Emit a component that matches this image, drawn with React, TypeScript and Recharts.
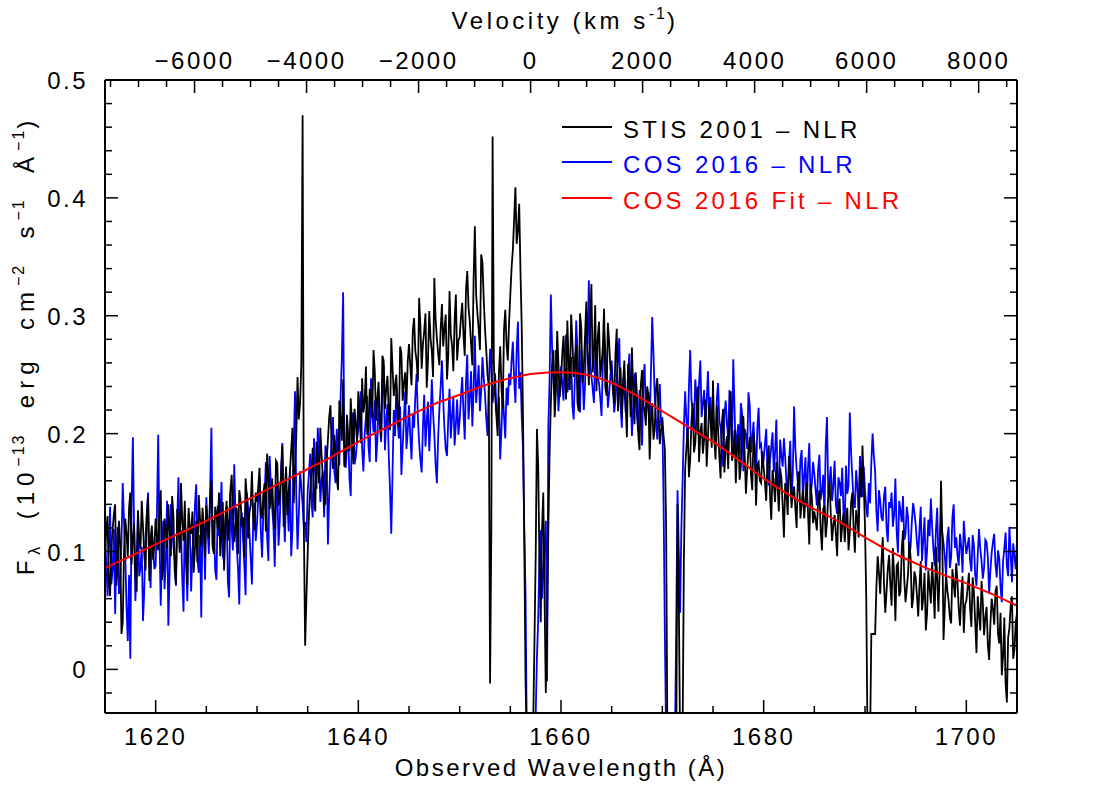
import React from "react";
import { LineChart, Line, XAxis, YAxis } from "recharts";

const FONT = "'Liberation Sans', Arial, sans-serif";

// spectra: values every 0.25 Å from 1615 Å plus the in-between samples (offset 0.125 Å),
// flux in units of 0.001 × 10^-13 erg cm^-2 s^-1 Å^-1
const WAVE_START = 1615;
const WAVE_STEP = 0.25;

const stis2001 = [
  95, 130, 62, 118, 140, 88, 105, 40, 128, 96, 150, 112, 78, 135, 102, 121, 84, 146, 110, 93,
  128, 101, 152, 87, 119, 140, 96, 131, 72, 124, 158, 109, 93, 137, 115, 82, 126, 148, 104, 121,
  139, 112, 160, 98, 131, 150, 117, 84, 143, 126, 165, 108, 137, 152, 121, 95, 146, 133, 168, 118,
  142, 171, 128, 158, 183, 136, 162, 119, 175, 148, 190, 154, 131, 168, 205, 172, 248, 226, 470, 20,
  98, 152, 188, 134, 176, 205, 162, 141, 195, 224, 170, 187, 152, 213, 246, 181, 199, 230, 174, 208,
  236, 192, 218, 257, 204, 229, 271, 211, 244, 196, 262, 238, 219, 281, 232, 250, 206, 268, 243, 225,
  276, 241, 298, 262, 315, 255, 287, 239, 304, 270, 332, 281, 258, 310, 289, 246, 321, 275, 296, 262,
  282, 311, 266, 338, 295, 258, 376, 302, 271, 345, 289, 250, -12, 452, 232, 198, 274, 221, 305, 262,
  318, 356, 409, 372, 338, 214, -10, -60, -60, -50, 95, 172, 40, 150, -20, 118, 226, 271, 236, 258,
  244, 283, 229, 262, 301, 248, 275, 219, 290, 256, 312, 241, 327, 268, 236, 295, 259, 306, 232, 278,
  251, 226, 289, 238, 214, 262, 197, 245, 273, 208, 231, 186, 254, 219, 240, 178, 226, 204, 247, 191,
  212, 186, -60, -60, -60, -60, 140, -60, -55, 170, 205, 178, 226, 192, 240, 201, 183, 229, 196, 214,
  245, 178, 203, 162, 221, 188, 170, 236, 184, 158, 199, 172, 214, 149, 186, 165, 201, 139, 176, 158,
  171, 143, 190, 127, 158, 176, 134, 162, 112, 149, 181, 137, 155, 120, 168, 141, 128, 159, 106, 146,
  134, 118, 152, 101, 139, 125, 160, 109, 131, 96, 145, 122, 108, 137, 116, 150, 99, 128, 171, 190,
  121, -60, -60, 30, 30, 96, 64, 112, 48, 85, 72, 103, 41, 90, 66, 118, 57, 81, 95, 60,
  78, 45, 92, 61, 33, 84, 56, 70, 104, 49, 160, 25, 81, 58, 39, 73, 90, 52, 64, 31,
  58, 82, 36, 65, 14, 47, 75, 29, 53, 8, 60, 38, 71, 22, -5, 44, -28, 35, 62, 17,
  48,
];

const stis2001Mid = [
  118, 76, 104, 132, 71, 126, 30, 99, 115, 137, 89, 124, 66, 110, 143, 97, 131, 75, 122, 106,
  112, 139, 76, 128, 103, 117, 147, 84, 136, 99, 125, 143, 71, 119, 134, 102, 91, 129, 137, 95,
  124, 147, 103, 138, 119, 96, 142, 128, 109, 152, 133, 121, 98, 144, 129, 162, 111, 139, 127, 150,
  155, 134, 149, 117, 164, 146, 128, 177, 139, 163, 121, 172, 150, 186, 141, 197, 212, 259, 120, 60,
  131, 168, 147, 193, 158, 181, 139, 177, 214, 186, 199, 162, 228, 194, 172, 216, 185, 207, 221, 193,
  214, 247, 226, 199, 238, 213, 252, 230, 207, 266, 221, 249, 203, 256, 241, 219, 274, 228, 252, 261,
  258, 287, 270, 244, 291, 276, 302, 263, 281, 248, 297, 268, 289, 274, 301, 266, 284, 253, 318, 279,
  298, 284, 322, 307, 276, 331, 318, 289, 352, 314, 271, 240, 120, 260, 215, 251, 239, 288, 276, 294,
  341, 382, 361, 395, 290, 110, -60, -60, -60, 20, 204, 90, 118, 62, 35, 183, 259, 214, 287, 231,
  268, 251, 296, 237, 279, 263, 226, 302, 243, 284, 267, 291, 252, 309, 281, 248, 273, 239, 294, 255,
  237, 268, 219, 256, 243, 228, 259, 214, 236, 252, 199, 241, 224, 207, 233, 212, 195, 238, 219, 203,
  198, 120, -60, -60, -60, -60, 60, -60, 90, 188, 163, 211, 184, 217, 176, 209, 195, 172, 226, 188,
  196, 224, 181, 209, 167, 198, 214, 177, 203, 189, 161, 215, 183, 170, 197, 152, 188, 174, 160, 185,
  159, 176, 148, 169, 142, 155, 171, 139, 158, 131, 166, 149, 137, 163, 128, 152, 145, 133, 157, 124,
  127, 143, 119, 136, 112, 148, 131, 123, 115, 139, 108, 133, 126, 101, 141, 121, 135, 112, 146, 158,
  60, -60, 30, 30, 70, 82, 91, 73, 66, 97, 54, 79, 88, 62, 101, 76, 69, 108, 52, 83,
  63, 71, 50, 82, 47, 69, 91, 43, 76, 88, 112, 52, 67, 44, 85, 61, 74, 37, 79, 55,
  69, 51, 78, 40, 62, 33, 57, 44, 21, 39, 52, 66, 30, 48, 11, -12, 27, 54, 9, 40,
];

const cos2016 = [
  110, 62, 138, 84, 47, 121, 73, 158, 96, 24, 9, 197, 58, 130, 86, 41, 112, 150, 69, 101,
  88, 199, 54, 126, 92, 37, 140, 105, 71, 163, 118, 49, 95, 132, 66, 110, 157, 82, 44, 121,
  146, 98, 205, 127, 76, 113, 159, 92, 138, 61, 120, 174, 104, 55, 133, 88, 150, 117, 72, 141,
  124, 163, 95, 148, 112, 181, 137, 87, 159, 126, 192, 108, 144, 171, 119, 236, 102, 168, 140, 125,
  151, 183, 129, 170, 205, 142, 168, 190, 106, 175, 214, 158, 186, 232, 320, 171, 199, 147, 218, 180,
  205, 236, 168, 214, 189, 247, 201, 176, 229, 193, 258, 210, 182, 115, 220, 241, 196, 165, 213, 187,
  224, 178, 205, 251, 192, 167, 233, 210, 185, 246, 199, 158, 221, 262, 204, 181, 238, 215, 190, 229,
  212, 248, 195, 267, 230, 206, 283, 241, 219, 265, 234, 198, 272, 226, 251, 209, 178, 237, 196, 224,
  241, 278, 226, 295, 252, 187, 64, -60, -60, -60, -40, 42, 118, 83, 126, 205, 318, 246, 271, 219,
  257, 228, 284, 241, 265, 212, 296, 238, 271, 220, 302, 330, 249, 226, 279, 243, 215, 288, 256, 234,
  262, 218, 247, 281, 205, 239, 226, 268, 198, 251, 214, 237, 190, 259, 223, 208, 299, 231, 195, 242,
  214, 30, -60, -60, -60, -60, 152, 48, 160, 236, 192, 271, 218, 246, 199, 262, 225, 208, 253, 231,
  219, 187, 243, 205, 172, 228, 196, 214, 263, 181, 208, 226, 168, 199, 235, 184, 210, 163, 222, 191,
  178, 204, 156, 189, 167, 212, 148, 181, 196, 159, 175, 142, 223, 170, 151, 186, 164, 138, 192, 157,
  166, 139, 182, 151, 128, 214, 160, 143, 177, 132, 158, 171, 124, 149, 218, 163, 137, 155, 181, 146,
  152, 129, 141, 200, 168, 117, 143, 126, 155, 108, 137, 121, 162, 99, 134, 147, 115, 129, 104, 141,
  123, 96, 138, 110, 84, 127, 145, 102, 118, 91, 133, 107, 79, 121, 95, 140, 112, 88, 104, 126,
  98, 112, 83, 105, 71, 119, 92, 86, 108, 64, 99, 115, 78, 94, 57, 103, 88, 121, 74, 96,
  110,
];

const cos2016Mid = [
  91, 103, 72, 119, 98, 64, 108, 126, 52, 80, 140, 117, 93, 79, 104, 67, 131, 92, 118, 85,
  131, 112, 97, 68, 143, 81, 119, 94, 126, 102, 77, 134, 58, 117, 101, 139, 93, 114, 128, 76,
  118, 152, 106, 84, 139, 128, 96, 121, 74, 149, 101, 132, 86, 124, 111, 63, 137, 95, 126, 109,
  146, 118, 134, 176, 92, 154, 121, 140, 105, 171, 137, 152, 117, 96, 188, 148, 131, 155, 119, 108,
  166, 142, 196, 153, 178, 161, 129, 183, 147, 197, 169, 204, 173, 265, 175, 188, 162, 207, 174, 195,
  221, 187, 199, 232, 176, 218, 228, 194, 207, 241, 186, 225, 153, 167, 198, 211, 223, 189, 236, 202,
  198, 217, 232, 214, 178, 206, 189, 227, 209, 218, 174, 196, 240, 229, 187, 213, 196, 231, 208, 199,
  231, 219, 244, 212, 253, 237, 226, 258, 236, 247, 213, 241, 255, 238, 219, 231, 204, 215, 239, 251,
  262, 247, 271, 238, 214, 120, -60, -60, -60, -60, 10, 95, 60, 105, -10, 246, 271, 228, 252, 240,
  243, 269, 235, 257, 224, 249, 270, 218, 253, 241, 276, 260, 238, 263, 247, 230, 258, 271, 222, 249,
  241, 229, 263, 226, 247, 218, 252, 236, 224, 243, 202, 228, 246, 215, 235, 251, 268, 212, 226, 207,
  140, -60, -60, -60, -60, 40, 100, 118, 205, 212, 240, 229, 204, 231, 243, 214, 237, 226, 219, 208,
  203, 229, 211, 190, 216, 208, 237, 192, 221, 199, 183, 217, 204, 187, 224, 196, 178, 205, 189, 172,
  191, 168, 177, 201, 184, 163, 195, 172, 180, 150, 194, 166, 188, 159, 178, 145, 180, 171, 148, 176,
  152, 170, 144, 165, 191, 149, 172, 156, 139, 163, 147, 135, 173, 156, 184, 142, 169, 130, 159, 172,
  137, 158, 176, 181, 134, 152, 129, 147, 121, 142, 150, 131, 117, 143, 125, 110, 138, 95, 126, 133,
  108, 119, 92, 129, 101, 113, 121, 88, 137, 105, 116, 96, 112, 86, 129, 103, 97, 115, 82, 110,
  105, 92, 114, 80, 97, 103, 77, 110, 95, 84, 108, 89, 101, 70, 92, 116, 79, 99, 107, 85,
];

// fit, every 2.5 Å
const fitWave = [
  1615, 1617.5, 1620, 1622.5, 1625, 1627.5, 1630, 1632.5, 1635, 1637.5, 1640, 1642.5, 1645,
  1647.5, 1650, 1652.5, 1655, 1657.5, 1660, 1662.5, 1665, 1667.5, 1670, 1672.5, 1675, 1677.5,
  1680, 1682.5, 1685, 1687.5, 1690, 1692.5, 1695, 1697.5, 1700, 1702.5, 1705,
];
const fitFlux = [
  0.086, 0.096, 0.106, 0.116, 0.126, 0.137, 0.148, 0.159, 0.17, 0.181, 0.193, 0.204, 0.215,
  0.225, 0.233, 0.241, 0.247, 0.251, 0.252, 0.25, 0.243, 0.232, 0.219, 0.206, 0.193, 0.178,
  0.162, 0.148, 0.136, 0.125, 0.112, 0.1, 0.09, 0.081, 0.073, 0.064, 0.054,
];

const waveTicks = [1620, 1625, 1630, 1635, 1640, 1645, 1650, 1655, 1660, 1665, 1670, 1675, 1680, 1685, 1690, 1695, 1700];
const waveLabels = [1620, 1640, 1660, 1680, 1700];
const velTicks = [
  -7500, -7000, -6500, -6000, -5500, -5000, -4500, -4000, -3500, -3000, -2500, -2000, -1500,
  -1000, -500, 0, 500, 1000, 1500, 2000, 2500, 3000, 3500, 4000, 4500, 5000, 5500, 6000, 6500,
  7000, 7500, 8000, 8500,
];
const velLabels = [-6000, -4000, -2000, 0, 2000, 4000, 6000, 8000];
const fluxTicks = [
  -0.02, 0, 0.02, 0.04, 0.06, 0.08, 0.1, 0.12, 0.14, 0.16, 0.18, 0.2, 0.22, 0.24, 0.26, 0.28,
  0.3, 0.32, 0.34, 0.36, 0.38, 0.4, 0.42, 0.44, 0.46, 0.48, 0.5,
];
const fluxLabels = [0, 0.1, 0.2, 0.3, 0.4, 0.5];

const WAVE_MIN = 1615;
const WAVE_MAX = 1705;
const REST = 1657.0;
const C_KMS = 299792.458;
const velToWave = (v: number) => REST * (1 + v / C_KMS);
const waveToVel = (w: number) => Math.round((((w - REST) / REST) * C_KMS) / 500) * 500;

const spectrum: { wave: number; stis: number; cos: number }[] = [];
stis2001.forEach((v, i) => {
  spectrum.push({ wave: WAVE_START + i * WAVE_STEP, stis: v / 1000, cos: cos2016[i] / 1000 });
  if (i < stis2001Mid.length) {
    spectrum.push({
      wave: WAVE_START + (i + 0.5) * WAVE_STEP,
      stis: stis2001Mid[i] / 1000,
      cos: cos2016Mid[i] / 1000,
    });
  }
});
const fit = fitWave.map((w, i) => ({ wave: w, fit: fitFlux[i] }));

const txt = { fontFamily: FONT, fontSize: 24, letterSpacing: 2.5, fill: "#000" } as const;
const MAJOR = 13;
const MINOR = 7;
const SP = "\u00a0";

const isLabel = (list: number[], v: number) => list.some((l) => Math.abs(l - v) < 1e-6);
const minus = (v: number) => (v < 0 ? "\u2212" + Math.abs(v) : String(v));

function WaveTick(props: any) {
  const { x, y, payload } = props;
  const major = isLabel(waveLabels, payload.value);
  return (
    <g>
      <line x1={x} x2={x} y1={y} y2={y - (major ? MAJOR : MINOR)} stroke="#000" strokeWidth={1.5} />
      {major && (
        <text x={x} y={y + 32} textAnchor="middle" style={txt}>
          {payload.value}
        </text>
      )}
    </g>
  );
}

function VelTick(props: any) {
  const { x, y, payload } = props;
  const v = waveToVel(payload.value);
  const major = isLabel(velLabels, v);
  return (
    <g>
      <line x1={x} x2={x} y1={y} y2={y + (major ? MAJOR : MINOR)} stroke="#000" strokeWidth={1.5} />
      {major && (
        <text x={x} y={y - 11} textAnchor="middle" style={txt}>
          {minus(v)}
        </text>
      )}
    </g>
  );
}

function FluxTick(props: any) {
  const { x, y, payload } = props;
  const major = isLabel(fluxLabels, payload.value);
  return (
    <g>
      <line x1={x} x2={x + (major ? MAJOR : MINOR)} y1={y} y2={y} stroke="#000" strokeWidth={1.5} />
      {major && (
        <text x={x - 17} y={y + 9} textAnchor="end" style={txt}>
          {payload.value}
        </text>
      )}
    </g>
  );
}

function RightTick(props: any) {
  const { x, y, payload } = props;
  const major = isLabel(fluxLabels, payload.value);
  return <line x1={x} x2={x - (major ? MAJOR : MINOR)} y1={y} y2={y} stroke="#000" strokeWidth={1.5} />;
}

const frame = { stroke: "#000", strokeWidth: 2 };

export default function App() {
  const sup = { fontSize: 16, letterSpacing: 2 };
  const ylab = { ...txt, letterSpacing: 6 };
  const leg = { ...txt, letterSpacing: 3.3 };
  return (
    <div style={{ position: "absolute", left: 0, top: 0, width: 1100, height: 799, background: "#fff" }}>
      <LineChart width={1100} height={799} data={spectrum} margin={{ top: 0, right: 0, bottom: 0, left: 0 }}>
        <XAxis
          xAxisId="w"
          dataKey="wave"
          type="number"
          domain={[WAVE_MIN, WAVE_MAX]}
          allowDataOverflow
          ticks={waveTicks}
          interval={0}
          height={86}
          tickSize={0}
          tickMargin={0}
          tickLine={false}
          axisLine={frame}
          tick={<WaveTick />}
        />
        <XAxis
          xAxisId="v"
          dataKey="wave"
          orientation="top"
          type="number"
          domain={[WAVE_MIN, WAVE_MAX]}
          allowDataOverflow
          ticks={velTicks.map(velToWave)}
          interval={0}
          height={80}
          tickSize={0}
          tickMargin={0}
          tickLine={false}
          axisLine={frame}
          tick={<VelTick />}
        />
        <YAxis
          yAxisId="f"
          type="number"
          domain={[-0.037, 0.5]}
          allowDataOverflow
          ticks={fluxTicks}
          interval={0}
          width={105}
          tickSize={0}
          tickMargin={0}
          tickLine={false}
          axisLine={frame}
          tick={<FluxTick />}
        />
        <YAxis
          yAxisId="r"
          orientation="right"
          type="number"
          domain={[-0.037, 0.5]}
          allowDataOverflow
          ticks={fluxTicks}
          interval={0}
          width={83}
          tickSize={0}
          tickMargin={0}
          tickLine={false}
          axisLine={frame}
          tick={<RightTick />}
        />
        {/* hidden copy so the velocity axis has a series to scale against */}
        <Line xAxisId="v" yAxisId="r" dataKey="stis" stroke="none" dot={false} isAnimationActive={false} />
        <Line xAxisId="w" yAxisId="f" dataKey="cos" stroke="#0000ff" strokeWidth={1.8} dot={false} type="linear" isAnimationActive={false} />
        <Line xAxisId="w" yAxisId="f" dataKey="stis" stroke="#000000" strokeWidth={1.8} dot={false} type="linear" isAnimationActive={false} />
        <Line xAxisId="w" yAxisId="f" data={fit} dataKey="fit" stroke="#ff0000" strokeWidth={2} dot={false} type="monotone" isAnimationActive={false} />
      </LineChart>

      <svg width={1100} height={799} style={{ position: "absolute", left: 0, top: 0, pointerEvents: "none" }}>
        <text x={565} y={29} textAnchor="middle" style={{ ...txt, letterSpacing: 3.5 }}>
          Velocity (km s<tspan style={sup} dy={-10}>-1</tspan>
          <tspan dy={10}>)</tspan>
        </text>
        <text x={561} y={776} textAnchor="middle" style={txt}>
          Observed Wavelength (Å)
        </text>
        <text transform="rotate(-90)" x={-345} y={34} textAnchor="middle" style={ylab}>
          F<tspan style={sup} dy={6}>λ</tspan>
          <tspan dy={-6}>{SP + SP}(10</tspan>
          <tspan style={sup} dy={-10}>−13</tspan>
          <tspan dy={10}>{SP + SP}erg{SP + SP}cm</tspan>
          <tspan style={sup} dy={-10}>−2</tspan>
          <tspan dy={10}>{SP + SP}s</tspan>
          <tspan style={sup} dy={-10}>−1</tspan>
          <tspan dy={10}>{SP + SP}Å</tspan>
          <tspan style={sup} dy={-10}>−1</tspan>
          <tspan dy={10}>)</tspan>
        </text>

        <line x1={562} x2={612} y1={127} y2={127} stroke="#000" strokeWidth={2} />
        <text x={623} y={138} style={leg}>STIS 2001 – NLR</text>
        <line x1={562} x2={612} y1={162} y2={162} stroke="#0000ff" strokeWidth={2} />
        <text x={623} y={173} style={{ ...leg, fill: "#0000ff" }}>COS 2016 – NLR</text>
        <line x1={562} x2={612} y1={198} y2={198} stroke="#ff0000" strokeWidth={2} />
        <text x={623} y={209} style={{ ...leg, fill: "#ff0000" }}>COS 2016 Fit – NLR</text>
      </svg>
    </div>
  );
}
